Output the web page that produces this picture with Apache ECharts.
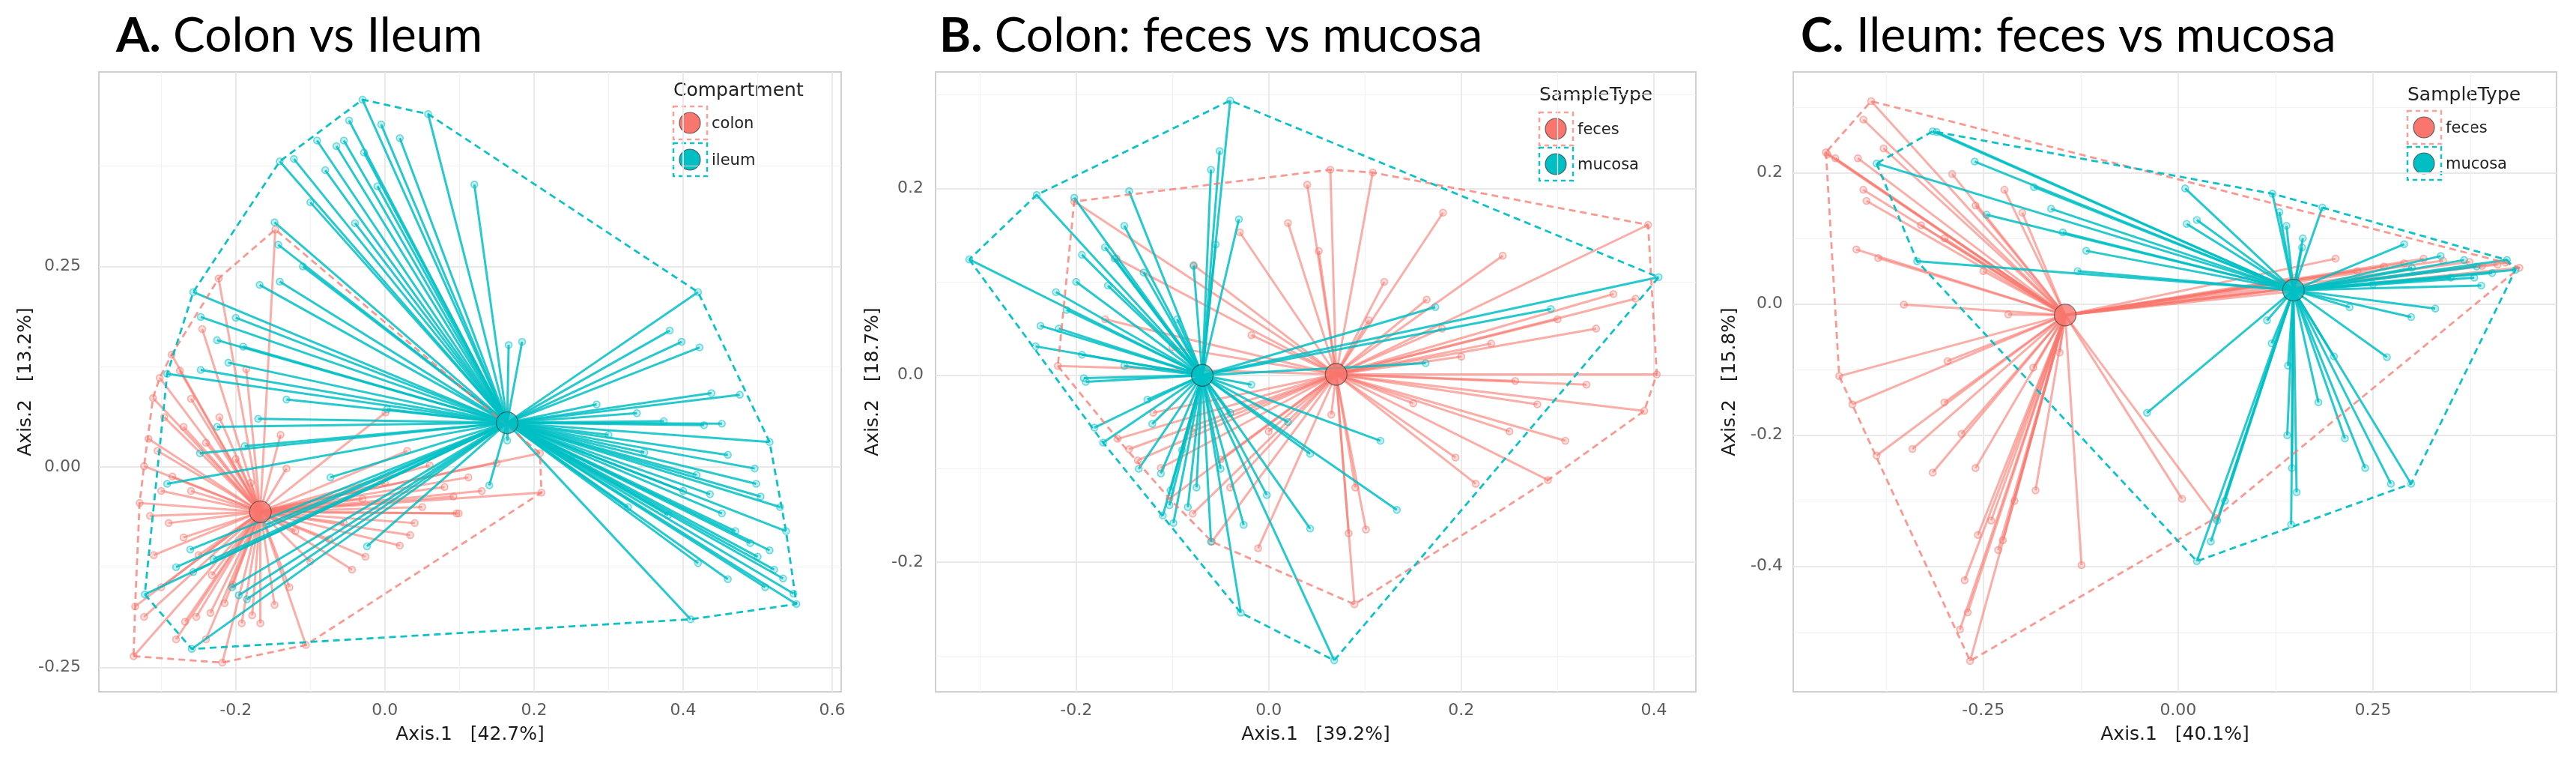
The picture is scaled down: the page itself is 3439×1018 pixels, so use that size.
<!DOCTYPE html>
<html>
<head>
<meta charset="utf-8">
<title>PCoA spider plots</title>
<script src="https://cdn.jsdelivr.net/npm/echarts@6/dist/echarts.min.js"></script>
<style>
  html, body { margin: 0; padding: 0; background: #fff; }
  #main { width: 3439px; height: 1018px; }
</style>
</head>
<body>
<div id="main"></div>
<script>
// ---- data ----

// A. Colon vs Ileum
var colonCentroidA = [-0.167, -0.056];
var ileumCentroidA = [0.164, 0.055];
var colonA = [
  [-0.147, 0.296], [-0.223, 0.235], [-0.245, 0.172], [-0.186, 0.122], [-0.286, 0.140], [-0.302, 0.111],
  [-0.311, 0.086], [-0.317, 0.035], [-0.323, 0.001], [-0.329, -0.045], [-0.315, -0.061], [-0.270, -0.088],
  [-0.335, -0.174], [-0.323, -0.187], [-0.337, -0.236], [-0.268, -0.193], [-0.253, -0.187], [-0.234, -0.182],
  [-0.218, -0.244], [-0.192, -0.195], [-0.167, -0.195], [-0.106, -0.222], [-0.204, -0.147], [-0.132, -0.002],
  [-0.044, -0.128], [-0.026, -0.112], [0.034, -0.085], [0.050, -0.050], [0.099, -0.058], [0.001, 0.068],
  [0.112, -0.013], [0.096, -0.058], [0.208, 0.017], [0.210, -0.032], [0.092, -0.037],
  [-0.275, 0.120], [-0.270, 0.050], [-0.296, 0.062], [-0.305, 0.020], [-0.285, -0.012], [-0.300, -0.030],
  [-0.260, 0.085], [-0.240, 0.030], [-0.222, 0.062], [-0.290, -0.070], [-0.250, -0.110], [-0.232, -0.135],
  [-0.215, -0.170], [-0.178, -0.185], [-0.148, -0.172], [-0.128, -0.150], [-0.100, -0.118], [-0.075, -0.090],
  [-0.055, -0.070], [-0.030, -0.040], [0.000, -0.020], [0.060, 0.002], [0.080, -0.025], [0.040, -0.070],
  [0.020, -0.098], [-0.200, 0.010], [-0.180, -0.020], [-0.140, 0.040], [-0.120, -0.080], [-0.260, -0.030],
  [-0.310, -0.110], [-0.300, -0.150], [-0.280, -0.215], [-0.240, -0.215], [0.150, 0.005], [0.130, -0.030],
  [0.030, 0.020]
];
var ileumA = [
  [-0.030, 0.458], [-0.048, 0.432], [-0.005, 0.427], [0.058, 0.440], [-0.091, 0.407], [-0.065, 0.400],
  [-0.055, 0.407], [-0.028, 0.392], [-0.141, 0.381], [-0.122, 0.384], [-0.040, 0.304], [-0.148, 0.305],
  [-0.143, 0.277], [-0.257, 0.218], [-0.168, 0.227], [-0.141, 0.231], [-0.247, 0.187], [-0.200, 0.186],
  [-0.225, 0.158], [-0.247, 0.121], [-0.292, 0.116], [-0.132, 0.084], [0.003, 0.072], [-0.225, 0.050],
  [-0.188, 0.026], [-0.248, 0.017], [-0.292, -0.021], [-0.073, -0.013], [-0.024, -0.099], [-0.261, -0.103],
  [-0.322, -0.159], [-0.257, -0.131], [-0.196, -0.160], [-0.259, -0.227], [0.120, 0.352], [0.166, 0.152],
  [0.184, 0.156], [0.420, 0.218], [0.382, 0.170], [0.398, 0.156], [0.422, 0.149], [0.438, 0.092],
  [0.476, 0.090], [0.284, 0.078], [0.338, 0.067], [0.374, 0.057], [0.452, 0.054], [0.428, 0.052],
  [0.516, 0.031], [0.348, 0.018], [0.460, 0.015], [0.496, -0.002], [0.418, -0.010], [0.498, -0.021],
  [0.436, -0.034], [0.504, -0.037], [0.530, -0.050], [0.452, -0.058], [0.538, -0.080], [0.326, -0.050],
  [0.516, -0.104], [0.500, -0.112], [0.522, -0.128], [0.534, -0.139], [0.548, -0.158], [0.552, -0.171],
  [0.410, -0.190], [0.140, -0.023], [0.164, 0.033], [-0.159, -0.072],
  [-0.080, 0.370], [-0.100, 0.330], [-0.010, 0.350], [0.020, 0.410], [-0.110, 0.250], [-0.190, 0.150],
  [-0.210, 0.130], [-0.170, 0.060], [-0.205, -0.150], [-0.185, -0.165], [-0.280, -0.125], [-0.230, -0.115],
  [0.380, -0.060], [0.470, -0.080], [0.490, -0.095], [0.400, -0.030], [0.300, 0.040], [0.250, 0.010],
  [0.420, -0.120], [0.460, -0.140], [0.510, -0.150]
];

// B. Colon: feces vs mucosa
var fecesCentroidB = [0.070, 0.001];
var mucosaCentroidB = [-0.069, 0.000];
var fecesB = [
  [0.064, 0.220], [0.108, 0.217], [0.040, 0.204], [0.020, 0.163], [0.181, 0.174], [0.052, 0.133],
  [0.243, 0.128], [0.394, 0.161], [0.164, 0.081], [0.358, 0.087], [0.381, 0.082], [0.104, 0.059],
  [0.231, 0.034], [0.403, 0.001], [0.256, -0.006], [0.279, -0.031], [0.390, -0.038], [0.308, -0.070],
  [0.194, -0.088], [0.215, -0.116], [0.290, -0.112], [0.101, -0.165], [0.083, -0.169], [0.089, -0.245],
  [0.065, -0.042], [-0.202, 0.186], [-0.030, 0.153], [-0.078, 0.118], [-0.158, 0.125], [-0.219, 0.010],
  [-0.018, 0.043], [-0.112, -0.099], [-0.145, -0.079], [-0.136, -0.091], [-0.103, -0.132], [-0.079, -0.148],
  [-0.059, -0.178], [-0.011, -0.185], [-0.157, -0.068],
  [0.300, 0.060], [0.340, 0.050], [0.200, 0.020], [0.150, -0.030], [0.330, -0.010], [0.120, 0.100],
  [0.090, -0.120], [0.000, -0.060], [-0.050, -0.090], [-0.080, -0.060], [-0.120, -0.040], [-0.170, 0.060],
  [-0.100, 0.030], [0.250, -0.060], [0.180, 0.050], [-0.040, -0.120]
];
var mucosaB = [
  [-0.040, 0.294], [-0.051, 0.240], [-0.031, 0.167], [-0.145, 0.197], [-0.241, 0.193], [-0.202, 0.190],
  [-0.311, 0.124], [-0.194, 0.129], [-0.170, 0.137], [-0.160, 0.125], [-0.200, 0.100], [-0.167, 0.096],
  [-0.221, 0.089], [-0.237, 0.053], [-0.218, 0.050], [-0.242, 0.031], [-0.194, 0.022], [-0.192, -0.003],
  [-0.190, -0.007], [-0.126, -0.026], [-0.121, -0.052], [-0.181, -0.056], [-0.172, -0.072], [-0.135, -0.100],
  [-0.112, -0.105], [-0.103, -0.139], [-0.102, -0.123], [-0.099, -0.158], [-0.084, -0.141], [-0.060, -0.178],
  [-0.026, -0.160], [-0.002, -0.128], [-0.029, -0.254], [-0.018, -0.010], [-0.078, 0.117], [0.068, -0.305],
  [0.405, 0.105], [0.173, 0.073], [0.293, 0.071], [0.163, 0.013], [0.116, -0.070], [0.133, -0.144],
  [0.043, -0.164], [0.043, -0.084],
  [-0.060, 0.220], [-0.055, 0.140], [-0.150, 0.160], [-0.130, 0.110], [-0.095, 0.060], [-0.210, 0.070],
  [-0.150, 0.010], [-0.090, -0.080], [-0.075, -0.120], [-0.050, -0.100], [-0.110, -0.150], [0.020, -0.050],
  [-0.040, -0.040]
];

// C. Ileum: feces vs mucosa
var fecesCentroidC = [-0.145, -0.017];
var mucosaCentroidC = [0.148, 0.021];
var fecesC = [
  [-0.394, 0.309], [-0.404, 0.281], [-0.452, 0.231], [-0.411, 0.222], [-0.378, 0.237], [-0.290, 0.198],
  [-0.223, 0.174], [-0.200, 0.139], [-0.404, 0.174], [-0.400, 0.157], [-0.413, 0.083], [-0.385, 0.070],
  [-0.352, -0.001], [-0.218, -0.016], [-0.435, -0.110], [-0.418, -0.153], [-0.296, -0.087], [-0.387, -0.231],
  [-0.341, -0.221], [-0.315, -0.257], [-0.278, -0.198], [-0.186, -0.097], [-0.183, -0.284], [-0.124, -0.398],
  [-0.257, -0.352], [-0.231, -0.375], [-0.274, -0.421], [-0.280, -0.496], [-0.267, -0.544], [-0.152, -0.074],
  [0.005, -0.297], [0.048, -0.326], [0.202, 0.069], [0.315, 0.069], [0.438, 0.055], [0.374, 0.064],
  [0.410, 0.060], [0.264, 0.057],
  [-0.450, 0.228], [-0.440, 0.222], [-0.330, 0.120], [-0.300, 0.100], [-0.260, 0.150], [-0.250, 0.050],
  [-0.300, -0.150], [-0.260, -0.250], [-0.240, -0.330], [-0.225, -0.360], [-0.210, -0.300], [-0.270, -0.470],
  [0.340, 0.066], [0.290, 0.062], [0.390, 0.058], [0.420, 0.063], [0.230, 0.050], [0.150, 0.040]
];
var mucosaC = [
  [-0.315, 0.263], [-0.387, 0.214], [-0.261, 0.217], [-0.185, 0.178], [-0.246, 0.136], [-0.163, 0.145],
  [-0.148, 0.109], [-0.118, 0.081], [-0.335, 0.065], [-0.129, 0.050], [-0.040, -0.166], [0.009, 0.176],
  [0.121, 0.168], [0.185, 0.147], [0.011, 0.122], [0.024, 0.128], [0.139, 0.119], [0.159, 0.086],
  [0.290, 0.091], [0.422, 0.067], [0.389, 0.028], [0.330, -0.007], [0.299, -0.020], [0.220, -0.005],
  [0.268, -0.081], [0.114, -0.025], [0.141, -0.094], [0.214, -0.205], [0.273, -0.274], [0.299, -0.274],
  [0.152, -0.287], [0.145, -0.336], [0.042, -0.362], [0.024, -0.392], [0.403, 0.047], [0.367, 0.067],
  [0.337, 0.073], [0.383, 0.057], [0.433, 0.052],
  [-0.310, 0.262], [0.130, 0.140], [0.160, 0.100], [0.350, 0.040], [0.300, 0.055], [0.380, 0.040],
  [0.250, 0.030], [0.140, -0.200], [0.146, -0.250], [0.060, -0.300], [0.050, -0.330], [0.180, -0.150],
  [0.240, -0.250], [0.120, -0.060], [0.200, -0.080]
];

// tick labels (major) and minor grid positions
var xTicksA = [-0.2, 0, 0.2, 0.4, 0.6];
var xMinorA = [-0.3, -0.1, 0.1, 0.3, 0.5];
var yTicksA = [-0.25, 0, 0.25];
var yMinorA = [-0.125, 0.125, 0.375];
var xTicksB = [-0.2, 0, 0.2, 0.4];
var xMinorB = [-0.3, -0.1, 0.1, 0.3];
var yTicksB = [-0.2, 0, 0.2];
var yMinorB = [-0.3, -0.1, 0.1, 0.3];
var xTicksC = [-0.25, 0, 0.25];
var xMinorC = [-0.375, -0.125, 0.125, 0.375];
var yTicksC = [-0.4, -0.2, 0, 0.2];
var yMinorC = [-0.5, -0.3, -0.1, 0.1, 0.3];

// ---- layout ----
var RED = '#F8766D', TEAL = '#00BFC4';
var TXT = 'DejaVu Sans';

var panels = [
  {
    title: 'A.', sub: ' Colon vs Ileum', titleLeft: 150,
    grid: { left: 132, top: 96, width: 991, height: 827 },
    x: { min: -0.3836, max: 0.612, ticks: xTicksA, minor: xMinorA, dec: 1 },
    y: { min: -0.2804, max: 0.4925, ticks: yTicksA, minor: yMinorA, dec: 2, margin: 24, gap: 84 },
    xName: 'Axis.1   [42.7%]', yName: 'Axis.2   [13.2%]',
    legendTitle: 'Compartment', legendX: 921, legendY: [121, 164, 213],
    groups: [
      { name: 'colon', color: RED, pts: colonA, c: colonCentroidA },
      { name: 'ileum', color: TEAL, pts: ileumA, c: ileumCentroidA }
    ]
  },
  {
    title: 'B.', sub: ' Colon: feces vs mucosa', titleLeft: 1249,
    grid: { left: 1249, top: 96, width: 1015, height: 827 },
    x: { min: -0.346, max: 0.4436, ticks: xTicksB, minor: xMinorB, dec: 1 },
    y: { min: -0.3386, max: 0.3246, ticks: yTicksB, minor: yMinorB, dec: 1, margin: 16, gap: 71 },
    xName: 'Axis.1   [39.2%]', yName: 'Axis.2   [18.7%]',
    legendTitle: 'SampleType', legendX: 2077, legendY: [127, 172, 219],
    groups: [
      { name: 'feces', color: RED, pts: fecesB, c: fecesCentroidB },
      { name: 'mucosa', color: TEAL, pts: mucosaB, c: mucosaCentroidB }
    ]
  },
  {
    title: 'C.', sub: ' Ileum: feces vs mucosa', titleLeft: 2399,
    grid: { left: 2394, top: 96, width: 1019, height: 827 },
    x: { min: -0.494, max: 0.4856, ticks: xTicksC, minor: xMinorC, dec: 2 },
    y: { min: -0.591, max: 0.3535, ticks: yTicksC, minor: yMinorC, dec: 1, margin: 14, gap: 72 },
    xName: 'Axis.1   [40.1%]', yName: 'Axis.2   [15.8%]',
    legendTitle: 'SampleType', legendX: 3236, legendY: [127, 170, 218],
    groups: [
      { name: 'feces', color: RED, pts: fecesC, c: fecesCentroidC },
      { name: 'mucosa', color: TEAL, pts: mucosaC, c: mucosaCentroidC }
    ]
  }
];

function rgba(hex, a) {
  var n = parseInt(hex.slice(1), 16);
  return 'rgba(' + (n >> 16) + ',' + ((n >> 8) & 255) + ',' + (n & 255) + ',' + a + ')';
}

// convex hull (monotone chain), closed
function hull(pts) {
  var p = pts.slice().sort(function (a, b) { return a[0] - b[0] || a[1] - b[1]; });
  function cross(o, a, b) { return (a[0] - o[0]) * (b[1] - o[1]) - (a[1] - o[1]) * (b[0] - o[0]); }
  var lower = [], upper = [], i;
  for (i = 0; i < p.length; i++) {
    while (lower.length >= 2 && cross(lower[lower.length - 2], lower[lower.length - 1], p[i]) <= 0) lower.pop();
    lower.push(p[i]);
  }
  for (i = p.length - 1; i >= 0; i--) {
    while (upper.length >= 2 && cross(upper[upper.length - 2], upper[upper.length - 1], p[i]) <= 0) upper.pop();
    upper.push(p[i]);
  }
  upper.pop(); lower.pop();
  var h = lower.concat(upper);
  h.push(h[0]);
  return h;
}

var titles = [], grids = [], xAxes = [], yAxes = [], series = [], graphics = [];

panels.forEach(function (pn, i) {
  titles.push({
    text: '{b|' + pn.title + '}' + pn.sub,
    left: pn.titleLeft, top: 11,
    textStyle: {
      fontFamily: 'Lato', fontSize: 64, fontWeight: 'normal', color: '#000',
      rich: { b: { fontFamily: 'Lato', fontSize: 64, fontWeight: 'bold', color: '#000' } }
    }
  });

  grids.push({
    left: pn.grid.left, top: pn.grid.top, width: pn.grid.width, height: pn.grid.height,
    show: true, borderColor: '#cfcfcf', borderWidth: 2, backgroundColor: '#fff',
    containLabel: false, outerBoundsMode: 'none'
  });

  var nameStyle = { fontFamily: TXT, fontSize: 25, color: '#1a1a1a' };
  var labStyle = { fontFamily: TXT, fontSize: 22, color: '#5c5c5c' };

  xAxes.push({
    type: 'value', gridIndex: i, position: 'bottom', min: pn.x.min, max: pn.x.max,
    axisLine: { show: false }, axisTick: { show: false, customValues: pn.x.ticks },
    axisLabel: Object.assign({ customValues: pn.x.ticks, margin: 14, showMinLabel: true, showMaxLabel: true,
      formatter: (function (d) { return function (v) { return v.toFixed(d); }; })(pn.x.dec) }, labStyle),
    splitLine: { show: true, lineStyle: { color: '#e8e8e8', width: 1.8 } },
    name: pn.xName, nameLocation: 'middle', nameGap: 45, nameTextStyle: nameStyle
  });
  xAxes.push({
    type: 'value', gridIndex: i, position: 'top', min: pn.x.min, max: pn.x.max,
    axisLine: { show: false }, axisTick: { show: false, customValues: pn.x.minor },
    axisLabel: { show: false },
    splitLine: { show: true, lineStyle: { color: '#f2f2f2', width: 1.2 } }
  });
  yAxes.push({
    type: 'value', gridIndex: i, position: 'left', min: pn.y.min, max: pn.y.max,
    axisLine: { show: false }, axisTick: { show: false, customValues: pn.y.ticks },
    axisLabel: Object.assign({ customValues: pn.y.ticks, margin: pn.y.margin,
      formatter: (function (d) { return function (v) { return v.toFixed(d); }; })(pn.y.dec) }, labStyle),
    splitLine: { show: true, lineStyle: { color: '#e8e8e8', width: 1.8 } },
    name: pn.yName, nameLocation: 'middle', nameRotate: 90, nameGap: pn.y.gap, nameTextStyle: nameStyle
  });
  yAxes.push({
    type: 'value', gridIndex: i, position: 'right', min: pn.y.min, max: pn.y.max,
    axisLine: { show: false }, axisTick: { show: false, customValues: pn.y.minor },
    axisLabel: { show: false },
    splitLine: { show: true, lineStyle: { color: '#f2f2f2', width: 1.2 } }
  });

  var xi = 2 * i, yi = 2 * i;

  // spokes from centroid to each sample
  pn.groups.forEach(function (g, k) {
    series.push({
      type: 'lines', coordinateSystem: 'cartesian2d', xAxisIndex: xi, yAxisIndex: yi,
      silent: true, z: 2 + k,
      data: g.pts.map(function (p) { return { coords: [g.c, p] }; }),
      lineStyle: { color: g.color, width: 3, opacity: k === 0 ? 0.6 : 0.85, curveness: 0 }
    });
    series.push({
      type: 'scatter', xAxisIndex: xi, yAxisIndex: yi, silent: true, z: 2 + k,
      data: g.pts, symbolSize: 9,
      itemStyle: { color: rgba(g.color, 0.3), borderColor: rgba(g.color, 0.65), borderWidth: 1.6 }
    });
  });
  // convex hulls
  pn.groups.forEach(function (g, k) {
    series.push({
      type: 'line', xAxisIndex: xi, yAxisIndex: yi, silent: true, z: 5,
      data: hull(g.pts), showSymbol: false, symbol: 'none', smooth: false,
      lineStyle: { color: g.color, width: 2.8, type: [9, 6], opacity: k === 0 ? 0.75 : 0.95 }
    });
  });
  // centroids
  pn.groups.forEach(function (g) {
    series.push({
      type: 'scatter', xAxisIndex: xi, yAxisIndex: yi, silent: true, z: 6,
      data: [g.c], symbolSize: 29,
      itemStyle: { color: g.color, borderColor: 'rgba(50,50,50,0.75)', borderWidth: 1.3 }
    });
  });

  // legend
  graphics.push({
    type: 'text', x: pn.legendX - 22, y: pn.legendY[0],
    style: { text: pn.legendTitle, font: '25px "' + TXT + '"', fill: '#222', verticalAlign: 'middle', align: 'left' }
  });
  pn.groups.forEach(function (g, k) {
    var cy = pn.legendY[k + 1];
    graphics.push({
      type: 'rect', shape: { x: pn.legendX - 22, y: cy - 22, width: 45, height: 44 },
      style: { fill: 'none', stroke: rgba(g.color, k === 0 ? 0.7 : 0.95), lineWidth: 2.5, lineDash: [6, 5] }
    });
    graphics.push({
      type: 'circle', shape: { cx: pn.legendX, cy: cy, r: 14 },
      style: { fill: g.color, stroke: 'rgba(50,50,50,0.7)', lineWidth: 1.2 }
    });
    graphics.push({
      type: 'text', x: pn.legendX + 29, y: cy + 2,
      style: { text: g.name, font: '21px "' + TXT + '"', fill: '#222', verticalAlign: 'middle', align: 'left' }
    });
  });
});

var chart = echarts.init(document.getElementById('main'), null, { renderer: 'canvas' });
chart.setOption({
  backgroundColor: '#fff',
  animation: false,
  title: titles,
  grid: grids,
  xAxis: xAxes,
  yAxis: yAxes,
  series: series,
  graphic: graphics
});
</script>
</body>
</html>
